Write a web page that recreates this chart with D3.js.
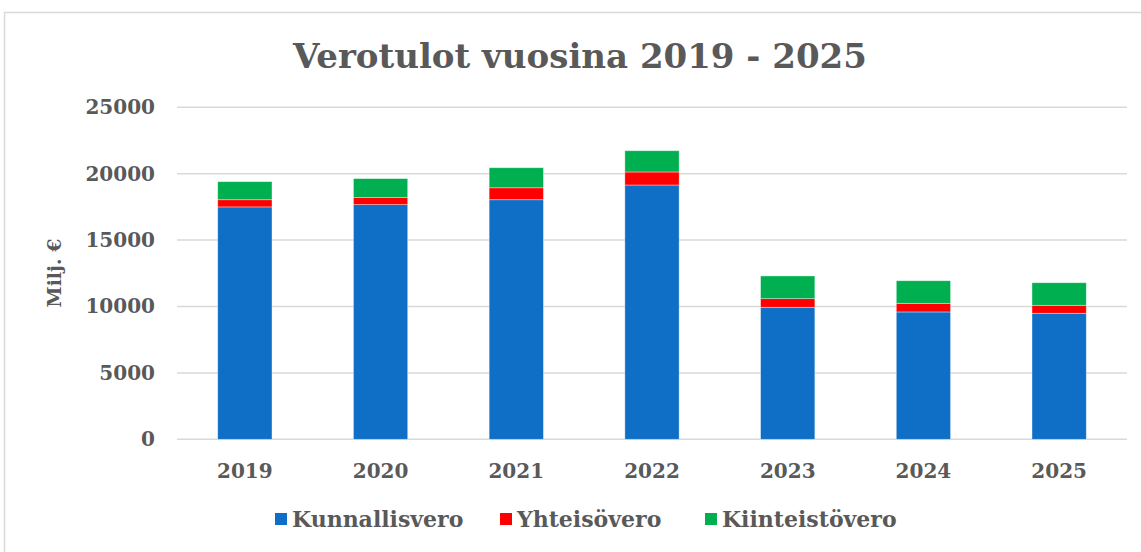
<!DOCTYPE html>
<html>
<head>
<meta charset="utf-8">
<script src="https://cdn.jsdelivr.net/npm/d3@7"></script>
<style>
  body { margin: 0; background: #fff; }
  text { font-family: "DejaVu Serif", Georgia, serif; font-weight: bold; fill: #595959; }
</style>
</head>
<body>
<svg id="chart" width="1141" height="552"></svg>
<script>
// values, milj. €
var years = ["2019", "2020", "2021", "2022", "2023", "2024", "2025"];
var kunnallisvero = [17500, 17670, 18040, 19150, 9940, 9590, 9490];
var yhteisovero = [540, 530, 900, 980, 650, 650, 600];
var kiinteistovero = [1360, 1430, 1510, 1600, 1710, 1700, 1700];
var seriesNames = ["Kunnallisvero", "Yhteisövero", "Kiinteistövero"];
var colors = ["#0F6FC6", "#FF0000", "#00B050"];
var yTicks = [0, 5000, 10000, 15000, 20000, 25000];

var svg = d3.select("#chart");

// outer chart border
svg.append("rect")
  .attr("x", 4.5).attr("y", 12.5)
  .attr("width", 1145).attr("height", 550)
  .attr("fill", "none").attr("stroke", "#D9D9D9").attr("stroke-width", 1.5);

var plotLeft = 177, plotRight = 1127, plotTop = 107.3, plotBottom = 439.3;

var x = d3.scaleBand().domain(years).range([plotLeft, plotRight])
  .paddingInner(0.6).paddingOuter(0.3);
var y = d3.scaleLinear().domain([0, 25000]).range([plotBottom, plotTop]);

// gridlines
svg.append("g").selectAll("line")
  .data(yTicks)
  .join("line")
  .attr("x1", plotLeft).attr("x2", plotRight)
  .attr("y1", d => y(d)).attr("y2", d => y(d))
  .attr("stroke", "#D9D9D9").attr("stroke-width", 1.5);

// y axis labels
var yAxis = svg.append("g")
  .attr("transform", "translate(" + (plotLeft - 22) + ",0)")
  .call(d3.axisLeft(y).tickValues(yTicks).tickSize(0).tickPadding(0).tickFormat(d3.format("d")));
yAxis.select(".domain").remove();
yAxis.selectAll("text")
  .style("font-family", "DejaVu Serif").style("font-weight", "bold")
  .attr("font-size", 20).attr("fill", "#595959");

// stack the series
var rows = years.map(function(yr, i) {
  return { year: yr, Kunnallisvero: kunnallisvero[i], "Yhteisövero": yhteisovero[i], "Kiinteistövero": kiinteistovero[i] };
});
var stacked = d3.stack().keys(seriesNames)(rows);

svg.append("g").selectAll("g")
  .data(stacked)
  .join("g")
  .attr("fill", (d, i) => colors[i])
  .selectAll("rect")
  .data(d => d)
  .join("rect")
  .attr("x", d => x(d.data.year))
  .attr("width", x.bandwidth())
  .attr("y", d => y(d[1]))
  .attr("height", d => y(d[0]) - y(d[1]))
  .attr("stroke", "#ffffff").attr("stroke-opacity", 0.5).attr("stroke-width", 0.75);

// x axis labels
var xAxis = svg.append("g")
  .attr("transform", "translate(0," + (plotBottom + 24) + ")")
  .call(d3.axisBottom(x).tickSize(0).tickPadding(0));
xAxis.select(".domain").remove();
xAxis.selectAll("text")
  .style("font-family", "DejaVu Serif").style("font-weight", "bold")
  .attr("font-size", 20).attr("fill", "#595959");

// title
svg.append("text")
  .attr("x", 580).attr("y", 68)
  .attr("text-anchor", "middle")
  .attr("font-size", 34)
  .text("Verotulot vuosina 2019 - 2025");

// y axis title
svg.append("text")
  .attr("transform", "translate(61,273) rotate(-90)")
  .attr("text-anchor", "middle")
  .attr("font-size", 19)
  .text("Milj. €");

// legend
var legendX = [275, 500, 705];
var legend = svg.append("g").selectAll("g")
  .data(seriesNames)
  .join("g")
  .attr("transform", (d, i) => "translate(" + legendX[i] + ",520)");
legend.append("rect")
  .attr("x", 0).attr("y", -7).attr("width", 12).attr("height", 12)
  .attr("fill", (d, i) => colors[i]);
legend.append("text")
  .attr("x", 17).attr("y", 7)
  .attr("font-size", 22)
  .text(d => d);
</script>
</body>
</html>
